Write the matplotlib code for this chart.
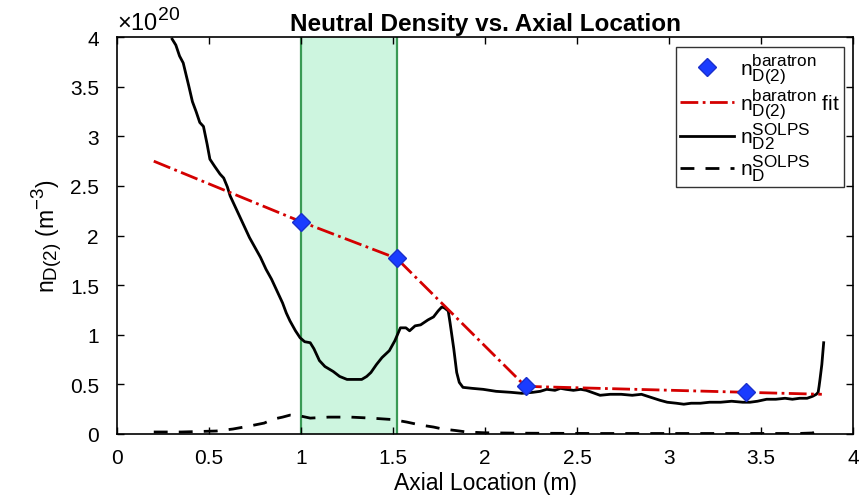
import matplotlib
matplotlib.use("Agg")
import matplotlib.pyplot as plt
import matplotlib._mathtext as _mt
import numpy as np

# larger sub/superscripts in labels
_mt.SHRINK_FACTOR = 0.82

plt.rcParams['font.family'] = ['Liberation Sans', 'DejaVu Sans']
plt.rcParams['mathtext.fontset'] = 'custom'
plt.rcParams['mathtext.rm'] = 'Liberation Sans'
plt.rcParams['mathtext.it'] = 'Liberation Sans'
plt.rcParams['mathtext.bf'] = 'Liberation Sans:bold'

# Baratron measurements (units of 1e20 m^-3)
baratron_x = [1.0, 1.52, 2.22, 3.42]
baratron_n = [2.14, 1.77, 0.48, 0.42]

# Piecewise fit through the baratron points
fit_x = [0.2, 1.0, 1.52, 2.22, 3.42, 3.83]
fit_n = [2.75, 2.14, 1.77, 0.48, 0.42, 0.40]

# SOLPS D2 molecular density along the axis
solps_d2_x = [0.30, 0.32, 0.34, 0.36, 0.39, 0.41, 0.43, 0.45, 0.47, 0.49, 0.505,
              0.53, 0.56, 0.58, 0.60, 0.615, 0.63, 0.66, 0.69, 0.72, 0.75, 0.78,
              0.81, 0.84, 0.87, 0.90, 0.92, 0.94, 0.97, 0.995, 1.02, 1.05, 1.07,
              1.10, 1.13, 1.175, 1.21, 1.25, 1.30, 1.33, 1.357, 1.38, 1.41, 1.44,
              1.48, 1.51, 1.54, 1.57, 1.59, 1.62, 1.65, 1.69, 1.72, 1.745, 1.765,
              1.78, 1.80, 1.81, 1.83, 1.846, 1.86, 1.88, 1.93, 1.99, 2.06, 2.14,
              2.20, 2.26, 2.30, 2.335, 2.38, 2.41, 2.44, 2.48, 2.52, 2.55, 2.58,
              2.625, 2.68, 2.74, 2.80, 2.85, 2.90, 2.95, 2.99, 3.04, 3.08, 3.12,
              3.17, 3.22, 3.28, 3.34, 3.40, 3.44, 3.48, 3.53, 3.58, 3.63, 3.67,
              3.71, 3.75, 3.78, 3.80, 3.81, 3.815, 3.82, 3.83, 3.84]
solps_d2_n = [3.98, 3.92, 3.81, 3.74, 3.51, 3.35, 3.25, 3.14, 3.10, 2.92, 2.77,
              2.70, 2.62, 2.58, 2.49, 2.40, 2.34, 2.22, 2.10, 1.98, 1.88, 1.78,
              1.66, 1.56, 1.44, 1.32, 1.22, 1.14, 1.04, 0.97, 0.93, 0.92, 0.86,
              0.74, 0.68, 0.63, 0.58, 0.55, 0.55, 0.55, 0.58, 0.62, 0.70, 0.77,
              0.84, 0.94, 1.07, 1.07, 1.04, 1.09, 1.10, 1.15, 1.18, 1.24, 1.28,
              1.27, 1.24, 1.12, 0.86, 0.62, 0.52, 0.47, 0.46, 0.45, 0.43, 0.42,
              0.41, 0.42, 0.43, 0.45, 0.44, 0.46, 0.45, 0.44, 0.45, 0.44, 0.42,
              0.39, 0.40, 0.40, 0.39, 0.40, 0.37, 0.34, 0.32, 0.31, 0.30, 0.31,
              0.31, 0.32, 0.32, 0.33, 0.32, 0.32, 0.33, 0.35, 0.35, 0.36, 0.35,
              0.36, 0.36, 0.38, 0.40, 0.42, 0.48, 0.55, 0.70, 0.92]

# SOLPS atomic D density along the axis
solps_d_x = [0.20, 0.35, 0.54, 0.63, 0.72, 0.80, 0.85, 0.90, 0.94, 1.00, 1.05,
             1.15, 1.27, 1.38, 1.50, 1.575, 1.65, 1.72, 1.77, 1.84, 1.90, 2.0,
             2.2, 2.6, 3.0, 3.4, 3.70, 3.78, 3.81, 3.83]
solps_d_n = [0.02, 0.02, 0.03, 0.05, 0.08, 0.11, 0.15, 0.17, 0.19, 0.18, 0.16,
             0.17, 0.17, 0.16, 0.145, 0.12, 0.09, 0.07, 0.05, 0.035, 0.02, 0.012,
             0.008, 0.005, 0.005, 0.005, 0.005, 0.01, 0.04, 0.08]

# Highlighted axial interval
band_x = [1.0, 1.52]

tick_vals = [0, 0.5, 1, 1.5, 2, 2.5, 3, 3.5, 4]
tick_text = ['0', '0.5', '1', '1.5', '2', '2.5', '3', '3.5', '4']

fig = plt.figure(figsize=(8.6, 5.02), dpi=100)
ax = fig.add_axes([0.136, 0.1335, 0.856, 0.7905])

ax.axvspan(band_x[0], band_x[1], facecolor='#cdf5df', edgecolor='none', zorder=0)
for xv in band_x:
    ax.axvline(xv, color='#3a9a55', lw=1.6, zorder=1)

ax.plot(fit_x, fit_n, linestyle='-.', color='#d40000', lw=2.0, zorder=3,
        label=r'$\mathrm{n}_{\mathrm{D(2)}}^{\mathrm{baratron}}$ fit')
ax.plot(solps_d2_x, solps_d2_n, color='black', lw=2.0, zorder=2,
        label=r'$\mathrm{n}_{\mathrm{D2}}^{\mathrm{SOLPS}}$')
ax.plot(solps_d_x, solps_d_n, color='black', lw=2.0, linestyle=(0, (5, 4)),
        zorder=2, label=r'$\mathrm{n}_{\mathrm{D}}^{\mathrm{SOLPS}}$')
ax.plot(baratron_x, baratron_n, linestyle='none', marker='D', markersize=9,
        markerfacecolor='#1a3cff', markeredgecolor='#1a2fcc', zorder=4,
        label=r'$\mathrm{n}_{\mathrm{D(2)}}^{\mathrm{baratron}}$')

ax.set_xlim(0, 4)
ax.set_ylim(0, 4)
ax.set_xticks(tick_vals)
ax.set_yticks(tick_vals)
ax.set_xticklabels(tick_text)
ax.set_yticklabels(tick_text)
ax.tick_params(direction='in', length=5, width=1, labelsize=15, top=True, right=True)
ax.tick_params(axis='x', pad=10)
ax.tick_params(axis='y', pad=13)
for s in ax.spines.values():
    s.set_linewidth(1.2)

ax.set_title('Neutral Density vs. Axial Location', fontsize=17.5, fontweight='bold', pad=5)
ax.set_xlabel('Axial Location (m)', fontsize=16.5, labelpad=3)
ax.set_ylabel(r'$\mathrm{n}_{\mathrm{D(2)}}$ (m$^{-3}$)', fontsize=16.5, labelpad=4)
ax.text(0.0, 1.006, r'$\times\mathrm{10}^{\mathrm{20}}$', transform=ax.transAxes,
        fontsize=17, ha='left', va='bottom')

handles, labels = ax.get_legend_handles_labels()
order = [3, 0, 1, 2]
leg = ax.legend([handles[i] for i in order], [labels[i] for i in order],
                loc='upper right', fontsize=15, frameon=True, fancybox=False,
                edgecolor='black', handlelength=2.6, handletextpad=0.25,
                labelspacing=0.05, borderaxespad=0.45, borderpad=0.2)
leg.get_frame().set_linewidth(1.0)

fig.savefig('out.png', dpi=100)
